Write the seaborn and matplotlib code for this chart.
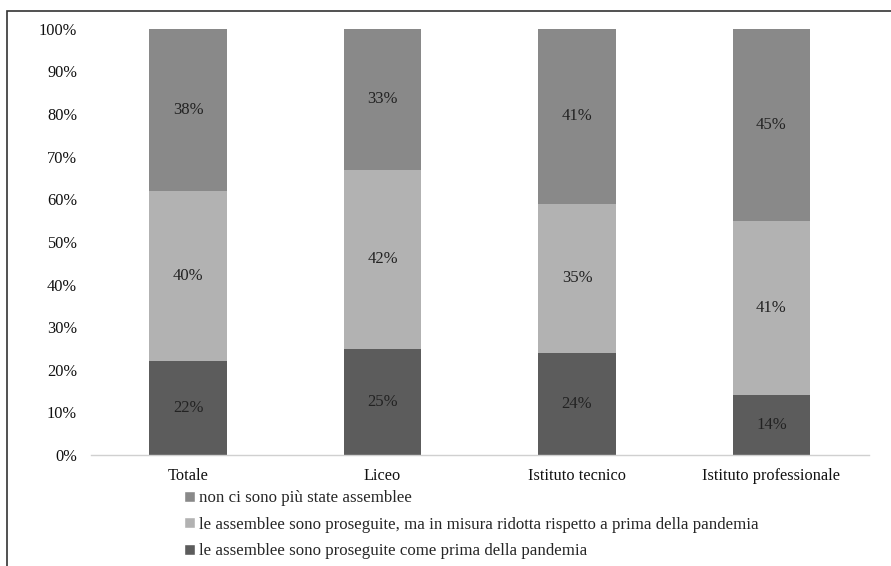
import matplotlib
matplotlib.use("Agg")
import matplotlib.pyplot as plt
import seaborn as sns
import pandas as pd
import numpy as np
from matplotlib.patches import Patch, Rectangle
from matplotlib.ticker import PercentFormatter

categories = ["Totale", "Liceo", "Istituto tecnico", "Istituto professionale"]
series_names = [
    "le assemblee sono proseguite come prima della pandemia",
    "le assemblee sono proseguite, ma in misura ridotta rispetto a prima della pandemia",
    "non ci sono più state assemblee",
]
come_prima = [22, 25, 24, 14]
ridotta = [40, 42, 35, 41]
non_piu = [38, 33, 41, 45]
colors = ["#5c5c5c", "#b2b2b2", "#898989"]

sns.set_theme(style="white")
plt.rcParams["font.family"] = ["Liberation Serif", "DejaVu Serif"]

fig = plt.figure(figsize=(8.91, 5.66), dpi=100)
ax = fig.add_axes([0.102, 0.196, 0.873, 0.753])

series = [come_prima, ridotta, non_piu]
bottom = np.zeros(len(categories))
for vals, col in zip(series, colors):
    df = pd.DataFrame({"cat": categories, "val": vals})
    sns.barplot(data=df, x="cat", y="val", bottom=bottom, color=col,
                width=0.4, ax=ax, saturation=1, edgecolor="none", linewidth=0)
    for i, v in enumerate(vals):
        ax.text(i, bottom[i] + v / 2, f"{v}%", ha="center", va="center",
                fontsize=12, color="#222222")
    bottom = bottom + np.array(vals)

ax.set_ylim(0, 100)
ax.set_xlim(-0.5, 3.5)
ax.set_yticks(range(0, 101, 10))
ax.yaxis.set_major_formatter(PercentFormatter(decimals=0))
ax.set_xlabel("")
ax.set_ylabel("")
for s in ["top", "right", "left"]:
    ax.spines[s].set_visible(False)
ax.spines["bottom"].set_color("#d0d0d0")
ax.spines["bottom"].set_linewidth(1)
ax.tick_params(axis="both", length=0, labelsize=11.8, colors="#111111")
ax.tick_params(axis="y", pad=10)
ax.tick_params(axis="x", pad=9)

handles = [Patch(facecolor=colors[2]), Patch(facecolor=colors[1]), Patch(facecolor=colors[0])]
labels = [series_names[2], series_names[1], series_names[0]]
fig.legend(handles, labels, loc="upper left", bbox_to_anchor=(0.206, 0.134),
           frameon=False, fontsize=12.2, handlelength=0.65, handleheight=0.65,
           handletextpad=0.25, labelspacing=0.62, borderaxespad=0, borderpad=0)

fig.patches.append(Rectangle((7 / 891, -0.1), 1.2, 1 - 11 / 566 + 0.1,
                             transform=fig.transFigure, fill=False,
                             edgecolor="#333333", linewidth=1.2))

fig.savefig("out.png", dpi=100)
